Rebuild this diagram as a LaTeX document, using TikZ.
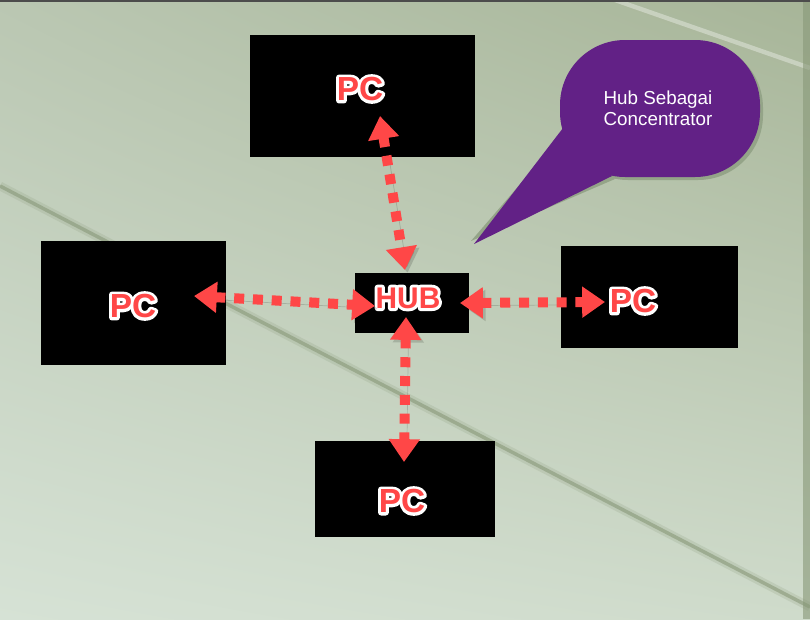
\documentclass[tikz,border=0pt]{standalone}
\usepackage{fontspec}
\setmainfont{Liberation Sans}
\usepackage{tikz}
\usetikzlibrary{ arrows.meta, % For the big triangle tips
                 shadings,    % For the four-corner backdrop
                 positioning, % For easy node-relative placements
               }
\definecolor{linkred}{HTML}{FF4747}
\definecolor{calloutpurple}{HTML}{622186}
\definecolor{bgtl}{HTML}{BAC7B2}
\definecolor{bgtr}{HTML}{A7B598}
\definecolor{bgbl}{HTML}{D6E2D5}
\definecolor{bgbr}{HTML}{CFDBCB}
\definecolor{stripe}{HTML}{889878}
\definecolor{calloutshade}{HTML}{94A488}

\tikzstyle{pcbox} = [rectangle, fill=black, inner sep=0pt]
\tikzstyle{tag} = [font=\bfseries\fontsize{19}{19}\selectfont, inner sep=0pt]
\tikzstyle{link} = [{Triangle[length=13pt,width=17pt]}-{Triangle[length=13pt,width=17pt]},
                    linkred, line width=5.7pt, dash pattern=on 5.7pt off 5pt,
                    preaction={draw=black, opacity=0.15, transform canvas={shift={(1.5pt,-1.5pt)}}}]
\tikzstyle{callout} = [fill=calloutpurple]

% red letters with a white rim: a stroked copy under a plain one
\newcommand{\pctag}[1]{\textcolor{linkred}{%
  \rlap{\special{pdf:literal direct 1 1 1 RG 2 Tr 3.4 w 1 j}#1\special{pdf:literal direct 0 Tr}}#1}}

\begin{document}
\begin{tikzpicture}[x=0.02cm, y=-0.02cm]
  \useasboundingbox (0,0) rectangle (810,619);
  % backdrop
  \shade[upper left=bgtl, upper right=bgtr, lower left=bgbl, lower right=bgbr]
    (0,0) rectangle (810,619);
  \draw[stripe, line width=5pt, opacity=0.2] (0,186) -- (810,607);
  \draw[stripe, line width=2pt, opacity=0.6] (0,186) -- (810,607);
  \draw[white, line width=2.5pt, opacity=0.35] (615,0) -- (810,68);
  \fill[stripe, opacity=0.6] (803,0) rectangle (810,619);
  \fill[black!70] (0,0) rectangle (810,2);

  % machines
  \node (pctop) [pcbox, minimum width=4.5cm, minimum height=2.44cm] at (362.5,96) {};
  \node (pcleft) [pcbox, minimum width=3.7cm, minimum height=2.48cm] at (133.5,303) {};
  \node (pcright) [pcbox, minimum width=3.54cm, minimum height=2.04cm] at (649.5,297) {};
  \node (pcbottom) [pcbox, minimum width=3.6cm, minimum height=1.92cm] at (405,489) {};
  \node (hub) [pcbox, minimum width=2.28cm, minimum height=1.2cm] at (412,303) {};

  \node (toptag) [tag] at (360,89) {\pctag{PC}};
  \node (lefttag) [tag] at (133,306) {\pctag{PC}};
  \node (righttag) [tag] at (633,301) {\pctag{PC}};
  \node (bottomtag) [tag] at (402,501) {\pctag{PC}};
  \node (hubtag) [tag, font=\bfseries\fontsize{17}{17}\selectfont] at (408,298) {\pctag{HUB}};

  % link ends
  \coordinate (t1) at (380,116);
  \coordinate (t2) at (405,270);
  \coordinate (l1) at (194,296);
  \coordinate (l2) at (375,306);
  \coordinate (r1) at (460,303);
  \coordinate (r2) at (605,302);
  \coordinate (b1) at (406,317);
  \coordinate (b2) at (404,462);

  \draw [link] (t1) -- (t2);
  \draw [link] (l1) -- (l2);
  \draw [link] (r1) -- (r2);
  \draw [link] (b1) -- (b2);

  % speech bubble
  \coordinate (tip) at (474,244);
  \begin{scope}[shift={(3,3)}]
    \fill[calloutshade, rounded corners=37pt] (560,40) rectangle (760,177);
    \fill[calloutshade] (tip) ++(-3,-3) -- (563,128) -- (612,176) -- cycle;
  \end{scope}
  \fill[callout, rounded corners=37pt] (560,40) rectangle (760,177);
  \fill[callout] (tip) -- (563,128) -- (612,176) -- cycle;
  \node (note) [white, align=center, font=\fontsize{10.7}{12}\selectfont] at (658,108)
    {Hub Sebagai\\Concentrator};
\end{tikzpicture}
\end{document}
